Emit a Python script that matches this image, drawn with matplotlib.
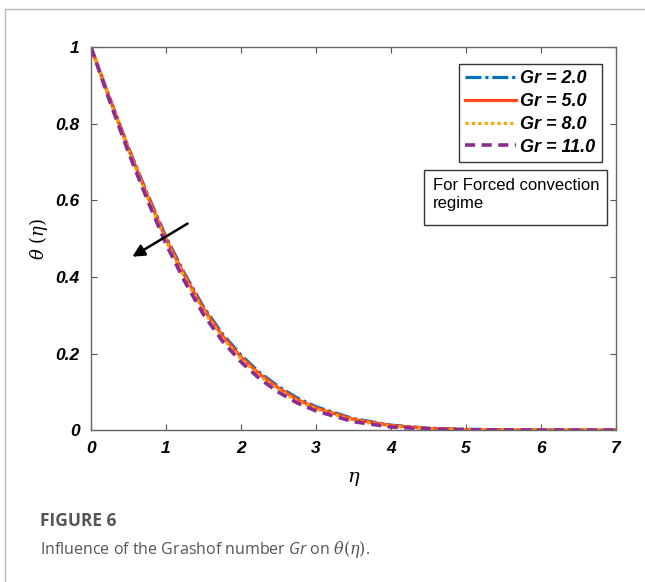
import numpy as np
import matplotlib.pyplot as plt
from matplotlib.lines import Line2D
from matplotlib.patches import Rectangle

# similarity variable and temperature profiles for each Grashof number
eta = [0, 0.25, 0.5, 0.75, 1.0, 1.25, 1.5, 1.75, 2.0, 2.25, 2.5, 2.75, 3.0, 3.5, 4.0, 4.5, 5.0, 6.0, 7.0]
theta_gr2 = [1.0, 0.868, 0.738, 0.618, 0.505, 0.408, 0.322, 0.252, 0.196, 0.150, 0.114, 0.084, 0.061, 0.030, 0.013, 0.005, 0.002, 0.0003, 0.0]
theta_gr5 = [1.0, 0.866, 0.735, 0.614, 0.500, 0.403, 0.317, 0.247, 0.191, 0.146, 0.110, 0.080, 0.058, 0.028, 0.012, 0.0045, 0.0015, 0.0002, 0.0]
theta_gr8 = [1.0, 0.863, 0.731, 0.609, 0.494, 0.397, 0.311, 0.241, 0.186, 0.141, 0.105, 0.076, 0.055, 0.025, 0.010, 0.0035, 0.001, 0.0001, 0.0]
theta_gr11 = [1.0, 0.859, 0.725, 0.602, 0.486, 0.388, 0.302, 0.233, 0.178, 0.134, 0.099, 0.071, 0.050, 0.022, 0.008, 0.003, 0.001, 0.0, 0.0]

labels = ['Gr = 2.0', 'Gr = 5.0', 'Gr = 8.0', 'Gr = 11.0']
xticks = [0, 1, 2, 3, 4, 5, 6, 7]
yticks = [0, 0.2, 0.4, 0.6, 0.8, 1]
yticklabels = ['0', '0.2', '0.4', '0.6', '0.8', '1']

plt.rcParams['font.family'] = ['Liberation Sans', 'DejaVu Sans']
plt.rcParams['mathtext.fontset'] = 'custom'
plt.rcParams['mathtext.it'] = 'DejaVu Serif:italic'
plt.rcParams['mathtext.rm'] = 'DejaVu Serif'
plt.rcParams['mathtext.sf'] = 'Open Sans:italic'

fig = plt.figure(figsize=(6.45, 5.82), dpi=100)
ax = fig.add_axes([0.141, 0.261, 0.814, 0.658])

ax.plot(eta, theta_gr2, color='#0072BD', lw=2.3, linestyle=(0, (5, 1.2, 1, 1.2)), label=labels[0])
ax.plot(eta, theta_gr5, color='#FF4A1C', lw=2.3, linestyle='-', label=labels[1])
ax.plot(eta, theta_gr8, color='#FFA500', lw=2.3, linestyle=(0, (1, 1)), label=labels[2])
ax.plot(eta, theta_gr11, color='#8E2A96', lw=2.6, linestyle=(0, (2.8, 1.8)), label=labels[3])

ax.set_xlim(0, 7)
ax.set_ylim(0, 1)
ax.set_xticks(xticks)
ax.set_yticks(yticks)
ax.set_yticklabels(yticklabels)
ax.tick_params(direction='in', top=True, right=True, length=4, color='#555555', pad=8)
for lab in ax.get_xticklabels() + ax.get_yticklabels():
    lab.set_fontweight('bold')
    lab.set_fontstyle('italic')
    lab.set_fontsize(12.5)
for s in ax.spines.values():
    s.set_color('#666666')
    s.set_linewidth(1.0)

ax.set_xlabel(r'$\eta$', fontsize=14, labelpad=10)
ax.set_ylabel(r'$\theta\ (\eta)$', fontsize=13, labelpad=4)

leg = ax.legend(loc='upper right', bbox_to_anchor=(0.973, 0.956), borderaxespad=0,
                prop={'weight': 'bold', 'style': 'italic', 'size': 13},
                handlelength=2.8, handletextpad=0.25, labelspacing=0.32,
                borderpad=0.35, fancybox=False, framealpha=1)
leg.get_frame().set_edgecolor('#333333')
leg.get_frame().set_linewidth(1.0)

ax.add_patch(Rectangle((0.634, 0.535), 0.349, 0.144, transform=ax.transAxes,
                       fc='white', ec='#333333', lw=1.0, zorder=5))
ax.text(0.651, 0.658, 'For Forced convection\nregime', transform=ax.transAxes,
        fontsize=12, va='top', ha='left', linespacing=1.25, zorder=6)

ax.annotate('', xy=(0.52, 0.449), xytext=(1.32, 0.543),
            arrowprops=dict(arrowstyle='-|>', color='black', lw=1.8, mutation_scale=18))

# card border and caption
fig.add_artist(Line2D([0.008, 1.0], [0.985, 0.985], color='#bbbbbb', lw=1.0))
fig.add_artist(Line2D([0.008, 0.008], [0.0, 0.985], color='#bbbbbb', lw=1.0))
fig.text(0.062, 0.097, 'FIGURE 6', fontsize=12.5, color='#555555', fontweight='bold',
         family=['Open Sans', 'DejaVu Sans'])
fig.text(0.062, 0.048, r'Influence of the Grashof number $\mathsf{Gr}$ on $\theta(\eta)$.',
         fontsize=11.5, color='#555555', family=['Open Sans', 'DejaVu Sans'])

fig.savefig('out.png', dpi=100)
